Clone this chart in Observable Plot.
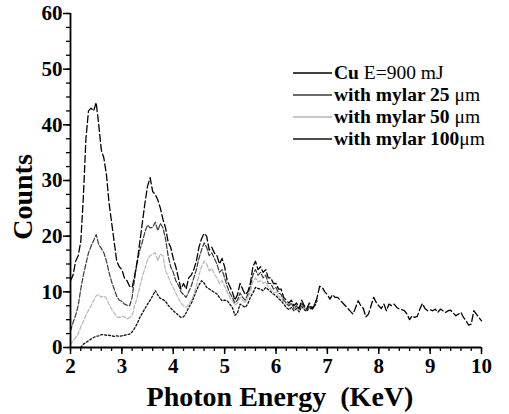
<!DOCTYPE html>
<html>
<head>
<meta charset="utf-8">
<script src="https://cdn.jsdelivr.net/npm/d3@7"></script>
<script src="https://cdn.jsdelivr.net/npm/@observablehq/plot@0.6"></script>
<style>
  html, body { margin: 0; padding: 0; background: #fff; }
  #chart svg { display: block; }
</style>
</head>
<body>
<div id="chart"></div>
<script>
// Sampling grid of the spectra (KeV)
const energyStep = 0.05;
const cuStart = 2.00, m25Start = 2.00, m50Start = 2.00, m100Start = 2.20;

// Series values (Counts)
const cuCounts = [12,13,15.5,16.5,19,27,37.5,42.5,43,42.5,44,40,35.5,34,31,26,22.5,19,15.5,14.5,
  14,12.5,12,11,10.8,13,15.5,19,22.5,26,29,30.5,28,27.5,26.5,25,23,21.5,19,18,
  16,14.5,12.5,10.5,11.5,10.5,12.5,13,14,15.5,18,19.5,20.5,20,17.5,18,17,16.5,15,16,
  14.5,12,11,10,8.5,9.5,11.5,10.5,9.5,10,11.5,14.5,15.5,14,14.5,13.5,14,12.5,12.5,11.5,
  11.5,10.5,10.5,9,8.5,8,8.5,7.5,8,7,8.5,7.5,7,8,7,7.5,9,11,10.8,10,
  9.5,8.7,9.5,9,9,8.5,8,7.5,7,6.5,6,7.2,8.4,7.5,7,5.5,6,7.5,9,8.1,
  7.5,7,7.8,6.6,7.8,7.5,7.8,7.2,6.9,6.8,6.6,6,5,5.7,5.4,5.6,6.9,7.9,7,6.6,
  6.8,6.6,6.9,6.3,6.9,6.6,6.3,6.6,6.7,6.2,5.7,6,6.3,5.4,4.8,4,4.2,6.6,6,5.4,4.8];
const mylar25Counts = [3,4.5,5.8,7.5,10.5,13,15,17,18.2,19.2,20.3,18.5,17.8,17,15.5,13.5,11.8,10.5,9.2,8.5,
  8.3,7.8,7.6,7.5,9,12.5,15.5,17.5,19,20.8,22,21.5,21.6,22.5,21,22.3,21.5,19.5,16.5,14.5,
  13.5,12,11.2,10,9.5,9,10,11,12.5,14,16,17.5,18.8,18,16.5,17,16,15,13.5,14,
  12.5,11,9.8,9,8,8.5,9.8,9,8.5,9.5,11,13,14,13,13.5,12.5,13,11.5,11.5,10.5,
  10.8,9.8,9.5,8.5,8,7.5,8,7,7.5,6.8,8,7.2,6.8,7.5,7,7.8,8.8];
const mylar50Counts = [0.5,1.2,1.8,2.5,3.7,4.7,5.8,6.7,7.5,8.4,9.3,9.5,9,9.3,8.8,7.8,6.9,6.2,5.5,5.4,
  5.6,5.5,5.1,5.4,5.8,7.5,9,11,12.8,14.2,15.8,16.5,16.8,17,15.6,16.8,16.5,13.8,12.8,11.6,
  10.8,9.8,8.8,8,7.5,7.2,7.8,8.5,9.5,11,13,14.5,15.5,15,13.8,14.2,13.2,12.5,11.5,12,
  11,10,9,8.4,7.6,8,9,8.5,8,8.8,10,11.8,12.5,11.8,12,11.5,11.8,10.8,10.5,9.8,
  10,9.2,9,8.2,7.8,7.4,7.8,7,7.3,6.8,7.8,7,6.8,7.4,7,7.6,8.6];
const mylar100Counts = [0,0.6,0.9,1.2,1.5,1.8,2,2.1,2.3,2.3,2.2,2.2,2.1,2,2.1,2,
  2.1,2.2,2.3,2.4,2.8,3.5,4.3,5.4,6.2,7,7.8,8.5,9.3,10.2,9.4,8.8,8.6,8.3,7.6,7.1,
  6.6,6.2,5.8,5.4,5.5,6.2,7.2,7.9,9,10.2,11.2,12,11.6,10.8,10.5,10.2,9.9,9.6,9,8.4,
  8.5,8.4,7.8,7.2,5.8,6.2,7.8,7.5,7.2,7.8,9,9.8,10.8,10.6,10.5,10.2,10.8,10.4,10,9.6,
  9.3,8.8,8.4,7.8,7.2,6.8,7.2,6.6,7,6.4,7.4,6.8,6.5,7.2,6.8,7.4,8.4];

// Axis ticks and labels
const xMajorTicks = [2,3,4,5,6,7,8,9,10];
const yMajorTicks = [0,10,20,30,40,50,60];
const xMinorTicks = d3.range(2, 10.0001, 0.2);
const yMinorTicks = d3.range(0, 60.0001, 2.5);

// Legend
const seriesNames = ["Cu", "mylar25", "mylar50", "mylar100"];
const legendBold = ["Cu", "with mylar 25", "with mylar 50", "with mylar 100"];
const legendNormal = [" E=900 mJ", " \u03bcm", " \u03bcm", "\u03bcm"];

const toRows = (start, vals) => vals.map((c, i) => ({e: +(start + i * energyStep).toFixed(2), c}));
const seriesData = [
  toRows(cuStart, cuCounts),
  toRows(m25Start, mylar25Counts),
  toRows(m50Start, mylar50Counts),
  toRows(m100Start, mylar100Counts)
];
const colors = ["#000000", "#3a3a3a", "#b5b5b5", "#111111"];
const dashes = ["7,3", "5,2", "4,2", "2,2"];
const widths = [1.3, 1.2, 1.2, 1.3];

const W = 509, H = 414;
const font = "'Liberation Serif', 'Times New Roman', serif";

const lineMarks = seriesData.map((d, i) => Plot.line(d, {
  x: "e", y: "c", stroke: colors[i], strokeWidth: widths[i], strokeDasharray: dashes[i]
}));

const chart = Plot.plot({
  width: W, height: H,
  marginLeft: 70, marginRight: 28, marginTop: 13, marginBottom: 67,
  style: {fontFamily: font, background: "#fff", color: "#000"},
  x: {domain: [2, 10]},
  y: {domain: [0, 60]},
  marks: [
    ...lineMarks.slice().reverse(),
    Plot.axisX({ticks: xMinorTicks, tickSize: 4, text: null, strokeWidth: 1.3, label: null}),
    Plot.axisX({ticks: xMajorTicks, tickSize: 7, tickPadding: 4, strokeWidth: 1.5,
      fontSize: 21, fontWeight: "bold", label: null}),
    Plot.axisY({ticks: yMinorTicks, tickSize: 4, text: null, strokeWidth: 1.3, label: null}),
    Plot.axisY({ticks: yMajorTicks, tickSize: 7, tickPadding: 1, strokeWidth: 1.5,
      fontSize: 21, fontWeight: "bold", label: null}),
    Plot.ruleY([0], {strokeWidth: 1.8}),
    Plot.ruleX([2], {strokeWidth: 1.8})
  ]
});

document.getElementById("chart").appendChild(chart);

const svg = d3.select(chart);
// Axis titles
svg.append("text")
  .attr("x", 280).attr("y", 406)
  .attr("text-anchor", "middle")
  .style("font-family", font).style("font-size", "28px").style("font-weight", "bold")
  .attr("fill", "#000")
  .text("Photon Energy  (KeV)");
svg.append("text")
  .attr("transform", "translate(32,197) rotate(-90)")
  .attr("text-anchor", "middle")
  .style("font-family", font).style("font-size", "28px").style("font-weight", "bold")
  .attr("fill", "#000")
  .text("Counts");

// Legend
const legendY = [73, 95, 117, 139];
const lg = svg.append("g").attr("text-anchor", "start");
seriesNames.forEach((name, i) => {
  lg.append("line")
    .attr("x1", 293).attr("x2", 332)
    .attr("y1", legendY[i]).attr("y2", legendY[i])
    .attr("stroke", colors[i]).attr("stroke-width", 1.4);
  const t = lg.append("text")
    .attr("x", 334).attr("y", legendY[i] + 6)
    .attr("text-anchor", "start")
    .style("font-family", font).style("font-size", "19.5px")
    .attr("fill", "#000");
  t.append("tspan").style("font-weight", "bold").text(legendBold[i]);
  t.append("tspan").style("font-weight", "normal").text(legendNormal[i]);
});
</script>
</body>
</html>
